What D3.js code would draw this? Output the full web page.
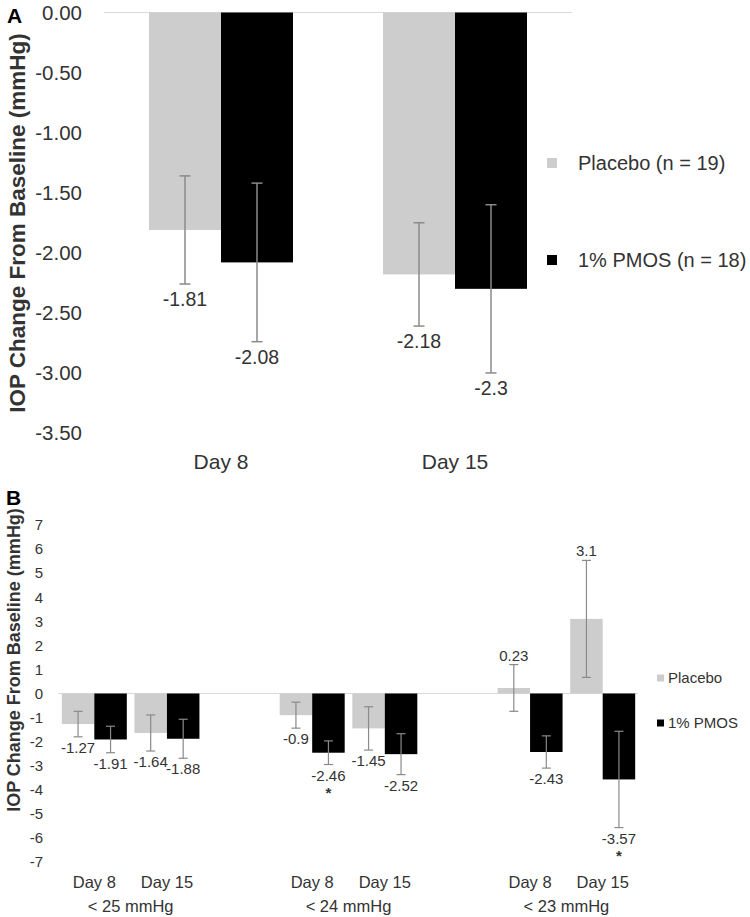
<!DOCTYPE html>
<html>
<head>
<meta charset="utf-8">
<script src="https://cdn.jsdelivr.net/npm/d3@7"></script>
<style>
  html, body { margin: 0; padding: 0; background: #fff; }
  svg { display: block; font-family: "Liberation Sans", Arial, sans-serif; }
</style>
</head>
<body>
<svg id="chart" width="750" height="917"></svg>
<script>
// ---------- Panel A data ----------
const daysA = ["Day 8", "Day 15"];
const seriesNamesA = ["Placebo (n = 19)", "1% PMOS (n = 18)"];
const placeboA = [-1.81, -2.18];
const pmosA = [-2.08, -2.3];
const placeboErrA = [0.45, 0.43];
const pmosErrA = [0.66, 0.7];
const ticksA = [0, -0.5, -1, -1.5, -2, -2.5, -3, -3.5];

// ---------- Panel B data ----------
const groupsB = ["< 25 mmHg", "< 24 mmHg", "< 23 mmHg"];
const daysB = ["Day 8", "Day 15"];
const seriesNamesB = ["Placebo", "1% PMOS"];
// order: group1 Day8, group1 Day15, group2 Day8, group2 Day15, group3 Day8, group3 Day15
const placeboB = [-1.27, -1.64, -0.9, -1.45, 0.23, 3.1];
const pmosB = [-1.91, -1.88, -2.46, -2.52, -2.43, -3.57];
const placeboErrB = [0.53, 0.75, 0.54, 0.9, 0.97, 2.43];
const pmosErrB = [0.55, 0.81, 0.49, 0.85, 0.67, 2.0];
const pmosSigB = [false, false, true, false, false, true];
const ticksB = [7, 6, 5, 4, 3, 2, 1, 0, -1, -2, -3, -4, -5, -6, -7];

// ---------- styles ----------
const colPlacebo = "#cdcdcd";
const colPmos = "#000000";
const colErr = "#8a8a8a";
const colText = "#333333";
const colGrid = "#d9d9d9";

const svg = d3.select("#chart");

// =================== PANEL A ===================
const gA = svg.append("g");
const yA = d3.scaleLinear().domain([-3.5, 0]).range([433, 12.5]);
const xA = d3.scaleBand().domain(daysA).range([104, 572]).paddingInner(0.3846).paddingOuter(0.1923);
const subA = d3.scaleBand().domain([0, 1]).range([0, xA.bandwidth()]);

// zero line
gA.append("line")
  .attr("x1", 104).attr("x2", 572)
  .attr("y1", yA(0)).attr("y2", yA(0))
  .attr("stroke", colGrid).attr("stroke-width", 1.2);

// y axis
const axA = gA.append("g")
  .attr("transform", "translate(86,0)")
  .call(d3.axisLeft(yA).tickValues(ticksA).tickSize(0).tickPadding(4).tickFormat(d => d.toFixed(2)));
axA.select(".domain").remove();
axA.selectAll("text").attr("font-size", 20.5).attr("fill", colText).attr("font-family", "Liberation Sans, Arial, sans-serif");

const recA = [];
daysA.forEach((d, i) => {
  recA.push({ day: d, s: 0, v: placeboA[i], e: placeboErrA[i], c: colPlacebo });
  recA.push({ day: d, s: 1, v: pmosA[i], e: pmosErrA[i], c: colPmos });
});

gA.selectAll("rect.bar").data(recA).enter().append("rect")
  .attr("x", r => xA(r.day) + subA(r.s))
  .attr("width", subA.bandwidth())
  .attr("y", r => yA(Math.max(0, r.v)))
  .attr("height", r => Math.abs(yA(r.v) - yA(0)))
  .attr("fill", r => r.c);

const cxA = r => xA(r.day) + subA(r.s) + subA.bandwidth() / 2;
const capA = 5.5;
recA.forEach(r => {
  const cx = cxA(r);
  const y1 = yA(r.v + r.e), y2 = yA(r.v - r.e);
  gA.append("line").attr("x1", cx).attr("x2", cx).attr("y1", y1).attr("y2", y2)
    .attr("stroke", colErr).attr("stroke-width", 1.5);
  [y1, y2].forEach(yy => gA.append("line").attr("x1", cx - capA).attr("x2", cx + capA)
    .attr("y1", yy).attr("y2", yy).attr("stroke", colErr).attr("stroke-width", 1.5));
  gA.append("text").attr("x", cx).attr("y", y2 + 22)
    .attr("text-anchor", "middle").attr("font-size", 19.5).attr("fill", colText)
    .text(String(r.v));
});

// x labels
daysA.forEach(d => {
  gA.append("text").attr("x", xA(d) + xA.bandwidth() / 2).attr("y", 469)
    .attr("text-anchor", "middle").attr("font-size", 21).attr("fill", colText).text(d);
});

// y title
gA.append("text")
  .attr("transform", "translate(25,223) rotate(-90)")
  .attr("text-anchor", "middle").attr("font-size", 22.5).attr("font-weight", "bold").attr("fill", colText)
  .text("IOP Change From Baseline (mmHg)");

// panel letter
gA.append("text").attr("x", 7).attr("y", 23).attr("font-size", 21).attr("font-weight", "bold").attr("fill", "#000").text("A");

// legend A
const legA = [{ n: seriesNamesA[0], c: colPlacebo, y: 163 }, { n: seriesNamesA[1], c: colPmos, y: 260 }];
legA.forEach(l => {
  gA.append("rect").attr("x", 547).attr("y", l.y - 5).attr("width", 10).attr("height", 10).attr("fill", l.c);
  gA.append("text").attr("x", 578).attr("y", l.y).attr("dy", "0.35em")
    .attr("font-size", 20).attr("fill", colText).text(l.n);
});

// =================== PANEL B ===================
const gB = svg.append("g");
const yB = d3.scaleLinear().domain([-7, 7]).range([862, 525]);
const slots = [];
groupsB.forEach((g, gi) => {
  daysB.forEach(d => slots.push(gi + "|" + d));
  if (gi < groupsB.length - 1) slots.push("gap" + gi);
});
const xB = d3.scaleBand().domain(slots).range([58, 639]).paddingInner(0.105).paddingOuter(0.0525);
const subB = d3.scaleBand().domain([0, 1]).range([0, xB.bandwidth()]);

gB.append("line")
  .attr("x1", 58).attr("x2", 638)
  .attr("y1", yB(0)).attr("y2", yB(0))
  .attr("stroke", colGrid).attr("stroke-width", 1.2);

const axB = gB.append("g")
  .attr("transform", "translate(47,0)")
  .call(d3.axisLeft(yB).tickValues(ticksB).tickSize(0).tickPadding(4).tickFormat(d => String(d)));
axB.select(".domain").remove();
axB.selectAll("text").attr("font-size", 15).attr("fill", colText).attr("font-family", "Liberation Sans, Arial, sans-serif");

const recB = [];
groupsB.forEach((g, gi) => {
  daysB.forEach((d, di) => {
    const k = gi * daysB.length + di;
    const key = gi + "|" + d;
    recB.push({ key, s: 0, v: placeboB[k], e: placeboErrB[k], c: colPlacebo, sig: false });
    recB.push({ key, s: 1, v: pmosB[k], e: pmosErrB[k], c: colPmos, sig: pmosSigB[k] });
  });
});

gB.selectAll("rect.bar").data(recB).enter().append("rect")
  .attr("x", r => xB(r.key) + subB(r.s))
  .attr("width", subB.bandwidth())
  .attr("y", r => yB(Math.max(0, r.v)))
  .attr("height", r => Math.abs(yB(r.v) - yB(0)))
  .attr("fill", r => r.c);

const capB = 4.5;
recB.forEach(r => {
  const cx = xB(r.key) + subB(r.s) + subB.bandwidth() / 2;
  const y1 = yB(r.v + r.e), y2 = yB(r.v - r.e);
  gB.append("line").attr("x1", cx).attr("x2", cx).attr("y1", y1).attr("y2", y2)
    .attr("stroke", colErr).attr("stroke-width", 1.2);
  [y1, y2].forEach(yy => gB.append("line").attr("x1", cx - capB).attr("x2", cx + capB)
    .attr("y1", yy).attr("y2", yy).attr("stroke", colErr).attr("stroke-width", 1.2));
  const ly = r.v >= 0 ? y1 - 4 : y2 + 16;
  gB.append("text").attr("x", cx).attr("y", ly)
    .attr("text-anchor", "middle").attr("font-size", 15).attr("fill", colText)
    .text(String(r.v));
  if (r.sig) {
    gB.append("text").attr("x", cx).attr("y", ly + 17)
      .attr("text-anchor", "middle").attr("font-size", 15).attr("font-weight", "bold").attr("fill", colText)
      .text("*");
  }
});

// x labels: days and groups
groupsB.forEach((g, gi) => {
  daysB.forEach(d => {
    gB.append("text").attr("x", xB(gi + "|" + d) + xB.bandwidth() / 2).attr("y", 888)
      .attr("text-anchor", "middle").attr("font-size", 16.5).attr("fill", colText).text(d);
  });
  const c = (xB(gi + "|" + daysB[0]) + xB(gi + "|" + daysB[daysB.length - 1]) + xB.bandwidth()) / 2;
  gB.append("text").attr("x", c).attr("y", 912)
    .attr("text-anchor", "middle").attr("font-size", 16.5).attr("fill", colText).text(g);
});

gB.append("text")
  .attr("transform", "translate(20,660) rotate(-90)")
  .attr("text-anchor", "middle").attr("font-size", 18).attr("font-weight", "bold").attr("fill", colText)
  .text("IOP Change From Baseline (mmHg)");

gB.append("text").attr("x", 6).attr("y", 505).attr("font-size", 21).attr("font-weight", "bold").attr("fill", "#000").text("B");

const legB = [{ n: seriesNamesB[0], c: colPlacebo, y: 678 }, { n: seriesNamesB[1], c: colPmos, y: 723 }];
legB.forEach(l => {
  gB.append("rect").attr("x", 657).attr("y", l.y - 3.5).attr("width", 7).attr("height", 7).attr("fill", l.c);
  gB.append("text").attr("x", 668).attr("y", l.y).attr("dy", "0.35em")
    .attr("font-size", 15).attr("fill", colText).text(l.n);
});
</script>
</body>
</html>
